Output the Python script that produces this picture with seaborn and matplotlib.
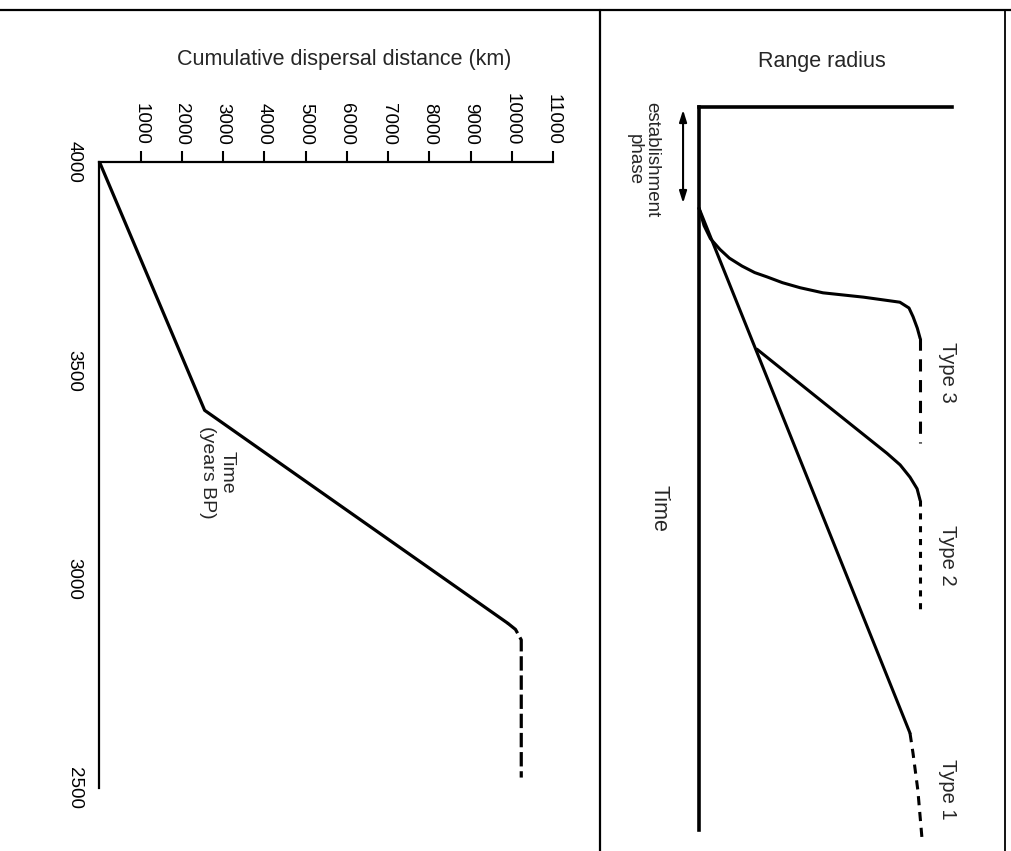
import matplotlib
matplotlib.use("Agg")
import matplotlib.pyplot as plt
from matplotlib.lines import Line2D
import seaborn as sns
import pandas as pd

# ---------------- data ----------------
# left panel: cumulative dispersal distance (km) vs time (years BP)
dist_solid = [0, 2550, 9900]
time_solid = [4000, 3405, 2895]
dist_dashed = [9900, 10090, 10230, 10230]
time_dashed = [2895, 2880, 2855, 2525]
x_ticks = [1000, 2000, 3000, 4000, 5000, 6000, 7000, 8000, 9000, 10000, 11000]
y_ticks = [4000, 3500, 3000, 2500]

# right panel: schematic range radius (0-100) vs time (0-100, downward)
type1_r = [0, 83.4]
type1_t = [14, 86.6]
type1_dr = [83.4, 84.6, 86.5, 88.1]
type1_dt = [86.6, 89.4, 94.5, 101]
type2_r = [22.9, 50, 74.3, 79.5, 83.4, 86.2, 87.4]
type2_t = [33.5, 41.1, 47.9, 49.5, 51.2, 52.8, 54.4]
type2_dr = [87.4, 87.4]
type2_dt = [54.4, 69.6]
type3_r = [0, 2, 4.5, 8.3, 12, 17, 22, 26.9, 33, 40, 49.0, 65, 79.4, 83, 84.6, 86.3, 87.4]
type3_t = [14, 16.4, 18.2, 19.7, 20.9, 22.0, 22.9, 23.5, 24.3, 25.0, 25.7, 26.3, 27.0, 27.8, 29.0, 30.6, 32.0]
type3_dr = [87.4, 87.4]
type3_dt = [32.0, 46.5]
estab_t = [0.4, 13.3]

# ---------------- style ----------------
sns.set_style("white")
plt.rcParams['font.family'] = ['Liberation Sans', 'DejaVu Sans']

W, H = 1012, 851
fig = plt.figure(figsize=(W / 100, H / 100), dpi=100)


def fx(px):
    return px / W


def fy(py):
    return 1 - py / H


# ---------------- left panel ----------------
x0, x1 = 99.5, 553
y0, y1 = 162, 788
ax1 = fig.add_axes([fx(x0), fy(y1), fx(x1 - x0), (y1 - y0) / H])
df_s = pd.DataFrame({"dist": dist_solid, "time": time_solid})
df_d = pd.DataFrame({"dist": dist_dashed, "time": time_dashed})
sns.lineplot(data=df_s, x="dist", y="time", sort=False, estimator=None,
             color="black", lw=2.3, ax=ax1)
sns.lineplot(data=df_d, x="dist", y="time", sort=False, estimator=None,
             color="black", lw=2.3, ax=ax1, linestyle=(0, (4.5, 1.5)))
ax1.set_xlim(0, 11000)
ax1.set_ylim(2500, 4000)
for s in ["bottom", "right"]:
    ax1.spines[s].set_visible(False)
for s in ["top", "left"]:
    ax1.spines[s].set_linewidth(1.6)
    ax1.spines[s].set_color("black")
ax1.xaxis.tick_top()
ax1.set_xticks(x_ticks)
ax1.set_xticklabels([str(v) for v in x_ticks], rotation=270, va="bottom", ha="center")
ax1.set_yticks(y_ticks)
ax1.set_yticklabels([str(v) for v in y_ticks], rotation=270, va="center", ha="right")
ax1.tick_params(axis="both", direction="out", length=8, width=1.5, labelsize=13.5,
                colors="black", pad=4)
ax1.set_xlabel("")
ax1.set_ylabel("")
fig.text(fx(344), fy(60), "Cumulative dispersal distance (km)", fontsize=15.5,
         ha="center", va="center")
fig.text(fx(217), fy(472), "Time\n(years BP)", fontsize=14, rotation=270,
         ha="center", va="center", multialignment="center")

# ---------------- right panel ----------------
rx0, rx1 = 699, 952
ry0 = 107
ry1 = ry0 + 723 * 1.01
ax2 = fig.add_axes([fx(rx0), fy(ry1), fx(rx1 - rx0), (ry1 - ry0) / H])
ax2.set_xlim(0, 100)
ax2.set_ylim(101, 0)
for s in ["bottom", "right"]:
    ax2.spines[s].set_visible(False)
for s in ["top", "left"]:
    ax2.spines[s].set_linewidth(2.6)
    ax2.spines[s].set_color("black")
ax2.spines["left"].set_bounds(0, 100)
ax2.set_xticks([])
ax2.set_yticks([])

lw = 2.2
for r, t, ls in [(type1_r, type1_t, "-"), (type1_dr, type1_dt, (0, (3, 2.2))),
                 (type2_r, type2_t, "-"), (type2_dr, type2_dt, (0, (2, 2.2))),
                 (type3_r, type3_t, "-"), (type3_dr, type3_dt, (0, (4, 2.8)))]:
    sns.lineplot(x=r, y=t, sort=False, estimator=None, color="black", lw=lw,
                 linestyle=ls, ax=ax2)
for ln in ax2.lines:
    ln.set_clip_on(False)
    ln.set_solid_joinstyle("round")
ax2.set_xlabel("")
ax2.set_ylabel("")

ax2.annotate("", xy=(-6.3, estab_t[0]), xytext=(-6.3, estab_t[1]),
             xycoords="data", textcoords="data", annotation_clip=False,
             arrowprops=dict(arrowstyle="<|-|>,head_length=0.7,head_width=0.22",
                             color="black", lw=1.5, shrinkA=0, shrinkB=0))

fig.text(fx(822), fy(62), "Range radius", fontsize=15.5, ha="center", va="center")
fig.text(fx(643), fy(160), "establishment\nphase", fontsize=13.5, rotation=270,
         ha="center", va="center", multialignment="center", linespacing=1.0)
fig.text(fx(659), fy(508), "Time", fontsize=15.5, rotation=270, ha="center", va="center")
fig.text(fx(948), fy(372), "Type 3", fontsize=14.5, rotation=270, ha="center", va="center")
fig.text(fx(948), fy(555), "Type 2", fontsize=14.5, rotation=270, ha="center", va="center")
fig.text(fx(948), fy(789), "Type 1", fontsize=14.5, rotation=270, ha="center", va="center")

# ---------------- frame lines ----------------
fig.add_artist(Line2D([0, 1], [fy(10), fy(10)], transform=fig.transFigure,
                      color="black", lw=1.6))
fig.add_artist(Line2D([fx(600), fx(600)], [fy(10), 0], transform=fig.transFigure,
                      color="black", lw=1.6))
fig.add_artist(Line2D([fx(1005), fx(1005)], [fy(10), 0], transform=fig.transFigure,
                      color="black", lw=1.3))

fig.savefig("out.png", dpi=100)
